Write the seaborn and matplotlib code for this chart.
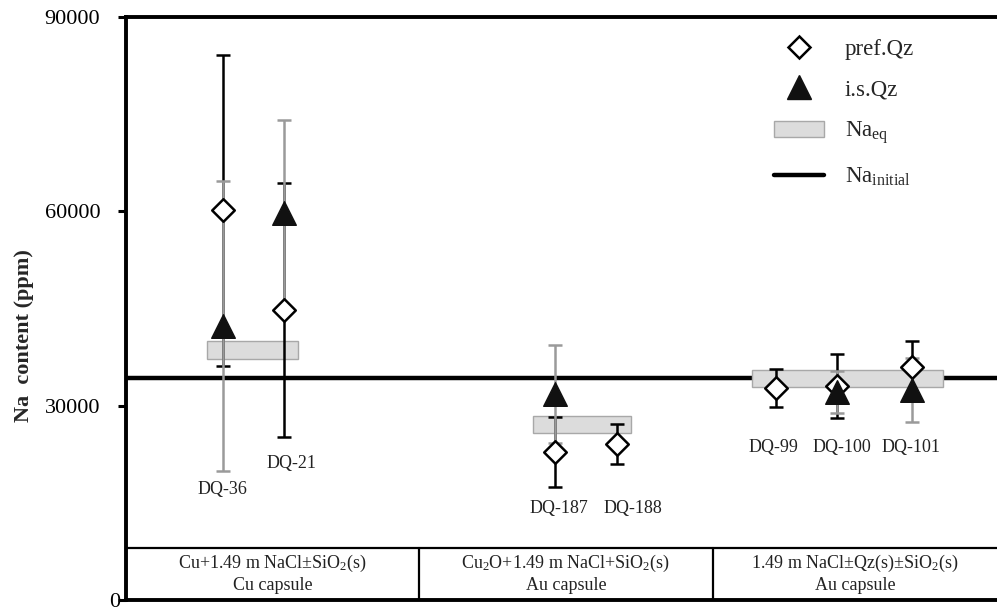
import numpy as np
import pandas as pd
import matplotlib
matplotlib.use('Agg')
import matplotlib.pyplot as plt
import matplotlib.transforms as mtransforms
from matplotlib.lines import Line2D
from matplotlib.patches import Patch, Rectangle
import seaborn as sns

# ---------------- data ----------------
samples = ['DQ-36', 'DQ-21', 'DQ-187', 'DQ-188', 'DQ-99', 'DQ-100', 'DQ-101']
pref_qz = [60200, 44800, 22900, 24100, 32700, 33100, 36000]
pref_qz_err = [24000, 19600, 5400, 3100, 2950, 4950, 4000]
is_qz = [42300, 59700, 31800, np.nan, np.nan, 32100, 32400]
is_qz_err = [22400, 14400, 7600, np.nan, np.nan, 3200, 4900]

na_eq_low = [37200, 25800, 32900]
na_eq_high = [40000, 28400, 35500]
na_initial = 34200

group_line1 = ['Cu+1.49 m NaCl±SiO$_\\mathrm{2}$(s)',
               'Cu$_\\mathrm{2}$O+1.49 m NaCl+SiO$_\\mathrm{2}$(s)',
               '1.49 m NaCl±Qz(s)±SiO$_\\mathrm{2}$(s)']
group_line2 = ['Cu capsule', 'Au capsule', 'Au capsule']

y_ticks = [0, 30000, 60000, 90000]
y_tick_labels = ['0', '30000', '60000', '90000']

# ---------------- layout ----------------
sample_x = [1.112, 1.812, 4.931, 5.642, 7.466, 8.165, 9.025]
label_x = [1.112, 1.904, 4.966, 5.814, 7.431, 8.222, 9.014]
label_y = [17000, 21000, 14200, 14200, 23600, 23600, 23600]
group_edges = [0, 3.36, 6.74, 10]
eq_x = [(0.93, 1.97), (4.67, 5.80), (7.19, 9.38)]
table_top = 8000

sns.set_style('white')
plt.rcParams['font.family'] = ['Liberation Serif', 'DejaVu Serif']
plt.rcParams['mathtext.fontset'] = 'custom'
plt.rcParams['mathtext.rm'] = 'Liberation Serif'
plt.rcParams['mathtext.it'] = 'Liberation Serif:italic'
plt.rcParams['mathtext.bf'] = 'Liberation Serif:bold'

df = pd.DataFrame({'sample': samples, 'x': sample_x,
                   'pref': pref_qz, 'pref_err': pref_qz_err,
                   'is': is_qz, 'is_err': is_qz_err})

fig = plt.figure(figsize=(9.97, 6.14), dpi=100)
ax = fig.add_axes([126 / 997, 14 / 614, 871 / 997, 583 / 614])

GRAY = '#9a9a9a'
# initial Na line
ax.axhline(na_initial, color='black', lw=3.2, zorder=1)
# Na_eq boxes
for (x0, x1), lo, hi in zip(eq_x, na_eq_low, na_eq_high):
    ax.add_patch(Rectangle((x0, lo), x1 - x0, hi - lo, facecolor='#dcdcdc',
                           edgecolor='#a8a8a8', lw=1, zorder=2))

# error bars
ax.errorbar(df['x'], df['pref'], yerr=df['pref_err'], fmt='none', ecolor='black',
            elinewidth=1.8, capsize=4.7, capthick=1.8, zorder=3)
d2 = df.dropna(subset=['is'])
ax.errorbar(d2['x'], d2['is'], yerr=d2['is_err'], fmt='none', ecolor=GRAY,
            elinewidth=1.8, capsize=4.7, capthick=1.8, zorder=4)

# markers
sns.scatterplot(data=df, x='x', y='pref', marker='D', s=11.5 ** 2, color='white',
                edgecolor='black', linewidth=1.8, zorder=5, ax=ax, legend=False)
sns.scatterplot(data=d2, x='x', y='is', marker='^', s=17 ** 2, color='#111111',
                edgecolor='#111111', linewidth=1, zorder=6, ax=ax, legend=False)

# sample labels
for s, lx, ly in zip(samples, label_x, label_y):
    ax.text(lx, ly, s, ha='center', va='center', fontsize=13, color='#222222')

# bottom table
ax.axhline(table_top, color='black', lw=1.6, zorder=3)
for xe in group_edges[1:-1]:
    ax.plot([xe, xe], [0, table_top], color='black', lw=1.6, zorder=3)
for i in range(3):
    xc = (group_edges[i] + group_edges[i + 1]) / 2
    ax.text(xc, 5700, group_line1[i], ha='center', va='center', fontsize=13, color='#222222')
    ax.text(xc, 2300, group_line2[i], ha='center', va='center', fontsize=13, color='#222222')

ax.set_xlim(0, 10)
ax.set_ylim(0, 90000)
ax.set_xticks([])
ax.set_yticks(y_ticks)
ax.set_yticklabels(y_tick_labels)
ax.tick_params(axis='y', direction='out', length=5.5, width=2.2, pad=13,
               labelsize=16, left=True, colors='black')
# shift the "0" label close to the axis, as in the original
zl = ax.get_yticklabels()[0]
zl.set_transform(zl.get_transform() + mtransforms.ScaledTranslation(14 / 72, 0, fig.dpi_scale_trans))
ax.set_xlabel('')
ax.set_ylabel('Na  content (ppm)', fontsize=16, fontweight='bold')
ax.yaxis.set_label_coords(-0.106, 0.453)

for side in ['left', 'top', 'bottom']:
    ax.spines[side].set_visible(True)
    ax.spines[side].set_color('black')
    ax.spines[side].set_linewidth(2.8)
ax.spines['right'].set_visible(False)

handles = [
    Line2D([], [], marker='D', ls='', mfc='white', mec='black', ms=11.5, mew=1.8),
    Line2D([], [], marker='^', ls='', mfc='#111111', mec='#111111', ms=17),
    Patch(facecolor='#dcdcdc', edgecolor='#a8a8a8', lw=1),
    Line2D([], [], color='black', lw=3.2),
]
labels = ['pref.Qz', 'i.s.Qz', 'Na$_\\mathrm{eq}$', 'Na$_\\mathrm{initial}$']
fig.legend(handles, labels, loc='upper left', bbox_to_anchor=(753 / 997, 1 - 18 / 614),
           frameon=False, fontsize=16.5, handlelength=2.2, handletextpad=0.9,
           labelspacing=0.85, borderpad=0.4)

fig.savefig('out.png', dpi=100)
